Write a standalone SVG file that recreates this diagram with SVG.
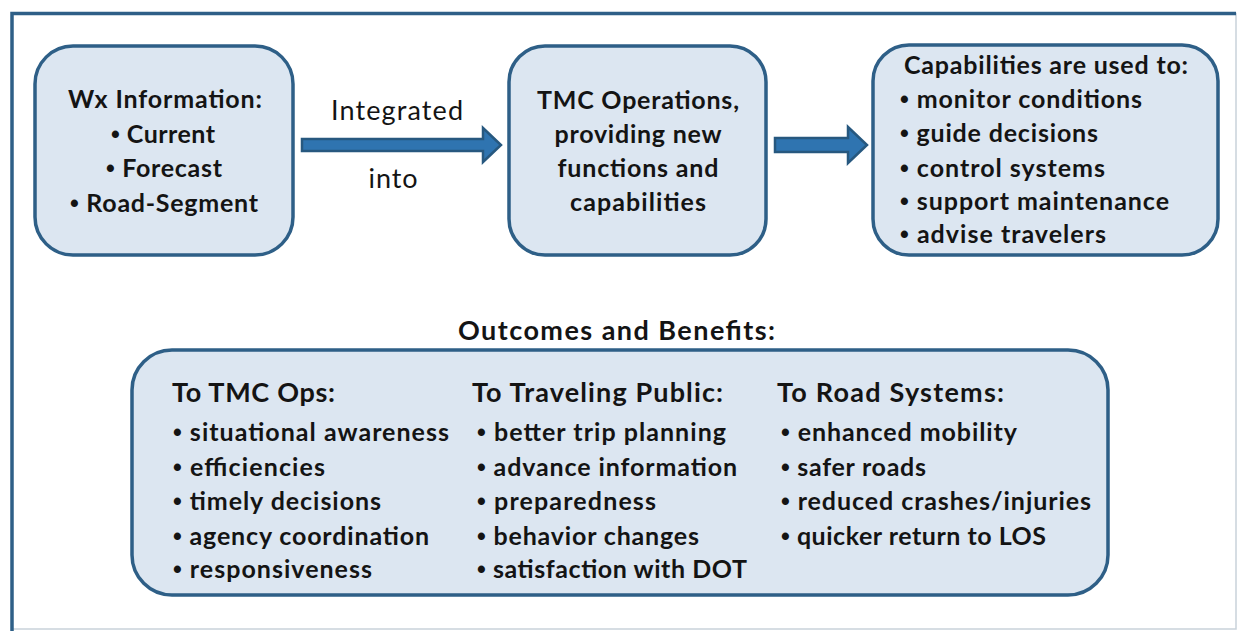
<svg xmlns="http://www.w3.org/2000/svg" width="1239" height="631" viewBox="0 0 1239 631">
<defs>
<style>
.box{fill:#dce6f1;stroke:#2e5f87;stroke-width:3.5}
.arrow{fill:#2f74b0;stroke:#27587f;stroke-width:2.5;stroke-linejoin:miter}
text{font-family:Lato,"Open Sans","Liberation Sans",sans-serif;font-weight:bold;fill:#141414}
.t{font-size:25px}
.h{font-size:27px}
.lbl{font-size:27px;font-weight:normal}
.c{text-anchor:middle}
.b{font-family:"Liberation Sans",Arial,sans-serif}
</style>
</defs>
<rect x="0" y="0" width="1239" height="631" fill="#ffffff"/>
<rect x="12" y="13.5" width="1224" height="615.5" fill="none" stroke="#c9d2da" stroke-width="1.5"/>
<path d="M12,631 V13.5 H1236" fill="none" stroke="#2e5f87" stroke-width="3.5"/>

<g id="connectors">
<polygon class="arrow" points="302,139 483,139 483,128 501,145 483,162 483,151 302,151"/>
<polygon class="arrow" points="775,138 848,138 848,127 867,145 848,163 848,152 775,152"/>
<text class="lbl c" x="397" y="120" textLength="132">Integrated</text>
<text class="lbl c" x="393" y="188" textLength="49">into</text>
</g>

<g id="wx-information">
<rect class="box" x="35" y="46" width="258" height="209" rx="38"/>
<text class="t c" x="165" y="108" textLength="194">Wx Information:</text>
<text class="t c" x="163" y="143" textLength="104"><tspan class="b">•</tspan> Current</text>
<text class="t c" x="164" y="177" textLength="116"><tspan class="b">•</tspan> Forecast</text>
<text class="t c" x="164" y="212" textLength="188"><tspan class="b">•</tspan> Road-Segment</text>
</g>

<g id="tmc-operations">
<rect class="box" x="509" y="46" width="257" height="209" rx="36"/>
<text class="t c" x="638" y="109" textLength="202">TMC Operations,</text>
<text class="t c" x="638" y="143" textLength="167">providing new</text>
<text class="t c" x="638" y="177" textLength="161">functions and</text>
<text class="t c" x="638" y="211" textLength="136">capabilities</text>
</g>

<g id="capabilities">
<rect class="box" x="873" y="45" width="345" height="210" rx="36"/>
<text class="t" x="904" y="74" textLength="284">Capabilities are used to:</text>
<text class="t" x="900" y="108" textLength="242"><tspan class="b">•</tspan> monitor conditions</text>
<text class="t" x="900" y="142" textLength="198"><tspan class="b">•</tspan> guide decisions</text>
<text class="t" x="900" y="177" textLength="205"><tspan class="b">•</tspan> control systems</text>
<text class="t" x="900" y="210" textLength="269"><tspan class="b">•</tspan> support maintenance</text>
<text class="t" x="900" y="243" textLength="206"><tspan class="b">•</tspan> advise travelers</text>
</g>

<g id="outcomes-title">
<text class="h" x="458" y="340" textLength="317">Outcomes and Benefits:</text>
</g>

<g id="outcomes">
<rect class="box" x="132" y="350" width="976" height="245" rx="40"/>
<text class="h" x="172" y="402" textLength="163">To TMC Ops:</text>
<text class="h" x="472" y="402" textLength="251">To Traveling Public:</text>
<text class="h" x="777" y="402" textLength="227">To Road Systems:</text>

<text class="t" x="173" y="441" textLength="276"><tspan class="b">•</tspan> situational awareness</text>
<text class="t" x="173" y="476" textLength="152"><tspan class="b">•</tspan> efficiencies</text>
<text class="t" x="173" y="510" textLength="208"><tspan class="b">•</tspan> timely decisions</text>
<text class="t" x="173" y="545" textLength="256"><tspan class="b">•</tspan> agency coordination</text>
<text class="t" x="173" y="578" textLength="199"><tspan class="b">•</tspan> responsiveness</text>

<text class="t" x="477" y="441" textLength="249"><tspan class="b">•</tspan> better trip planning</text>
<text class="t" x="477" y="476" textLength="260"><tspan class="b">•</tspan> advance information</text>
<text class="t" x="477" y="510" textLength="179"><tspan class="b">•</tspan> preparedness</text>
<text class="t" x="477" y="545" textLength="222"><tspan class="b">•</tspan> behavior changes</text>
<text class="t" x="477" y="578" textLength="270"><tspan class="b">•</tspan> satisfaction with DOT</text>

<text class="t" x="781" y="441" textLength="236"><tspan class="b">•</tspan> enhanced mobility</text>
<text class="t" x="781" y="476" textLength="145"><tspan class="b">•</tspan> safer roads</text>
<text class="t" x="781" y="510" textLength="310"><tspan class="b">•</tspan> reduced crashes/injuries</text>
<text class="t" x="781" y="545" textLength="265"><tspan class="b">•</tspan> quicker return to LOS</text>
</g>
</svg>
